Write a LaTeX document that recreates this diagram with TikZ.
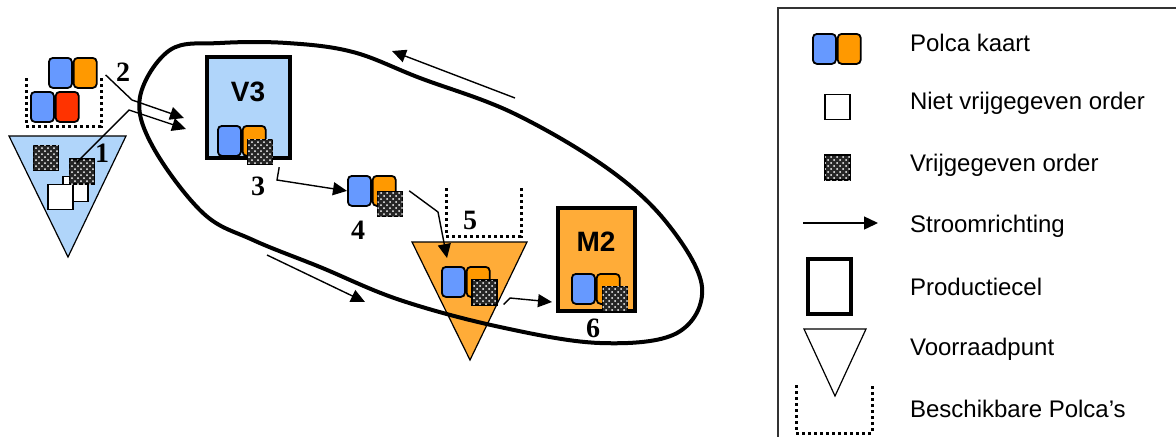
\documentclass[tikz,border=0pt]{standalone}
\usepackage{fontspec}
\setmainfont{Liberation Sans}
\newfontfamily\stapfont{Liberation Serif}
\usetikzlibrary{arrows.meta, positioning, patterns}
\definecolor{polcablue}{RGB}{102,153,255}
\definecolor{polcaorange}{RGB}{255,153,0}
\definecolor{polcared}{RGB}{255,51,0}
\definecolor{cellblue}{RGB}{176,213,250}
\definecolor{cellorange}{RGB}{255,172,56}

% polca card pair: name, north west corner, colour of the right half
\newcommand{\kaartpaar}[3]{%
  \node[kaart, fill=polcablue, anchor=north west] (#1l) at #2 {};
  \node[kaart, fill=#3, anchor=west] (#1r) at (#1l.east) {};}

\begin{document}
\begin{tikzpicture}[x=0.5pt, y=-0.5pt,
  kaart/.style={draw, line width=0.9pt, rounded corners=2pt, minimum width=11.5pt,
    minimum height=15pt, inner sep=0pt},
  order/.style={draw, line width=0.7pt, fill=black!85,
    postaction={pattern=crosshatch dots, pattern color=white!80}, minimum size=12.5pt, inner sep=0pt},
  leeg/.style={draw, line width=0.6pt, fill=white, minimum size=12.5pt, inner sep=0pt},
  cel/.style={draw, line width=2pt, inner sep=0pt},
  voorraad/.style={draw, line width=0.6pt},
  vrij/.style={line width=1.5pt, dash pattern=on 1.5pt off 1.5pt},
  flow/.style={-{Triangle[length=7pt, width=6.5pt]}, line width=0.7pt},
  stap/.style={font=\stapfont\bfseries\fontsize{14}{14}\selectfont},
  naam/.style={font=\bfseries\fontsize{14}{14}\selectfont},
  legtxt/.style={anchor=west, font=\fontsize{12}{14}\selectfont}
]
\useasboundingbox (0,0) rectangle (1176,436);

% stock points and available polcas
\draw[voorraad, fill=cellblue] (9,136) -- (126,136) -- (68,257) -- cycle;
\draw[voorraad, fill=cellorange] (412,242) -- (527,242) -- (470,360) -- cycle;
\draw[vrij] (26,78) -- (26,126) -- (101,126) -- (101,78);
\draw[vrij] (446,188) -- (446,236) -- (521,236) -- (521,188);

% production cells
\node[cel, fill=cellblue, minimum width=41.5pt, minimum height=50.5pt] (V3) at (248.5,107.5) {};
\node[cel, fill=cellorange, minimum width=38.5pt, minimum height=51.5pt] (M2) at (596.5,259.5) {};
\node[naam] (v3naam) at (248,92) {V3};
\node[naam] (m2naam) at (596,242) {M2};

% polca loop
\draw[line width=2pt] plot[smooth cycle, tension=0.6] coordinates {
  (140,97) (170,50) (220,43) (287,43) (353,52) (420,78) (513,113) (607,168)
  (667,223) (702,287) (677,333) (600,343) (500,327) (400,300) (320,267)
  (253,240) (203,213) (153,147)};
\coordinate (terugA) at (515,98);
\coordinate (terugB) at (392,51);
\coordinate (heenA) at (267,255);
\coordinate (heenB) at (365,302);
\draw[flow] (terugA) -- (terugB);
\draw[flow] (heenA) -- (heenB);

% cards and orders
\kaartpaar{k1}{(48,57)}{polcaorange}
\kaartpaar{k2}{(30,91)}{polcared}
\node[leeg] (w1b) at (75.5,189) {};
\node[leeg] (w1a) at (60.5,197) {};
\node[order] (o1a) at (46,158) {};
\node[order] (o1b) at (82,171.5) {};
\kaartpaar{k3}{(217,125)}{polcaorange}
\node[order] (o3) at (260,152) {};
\kaartpaar{k4}{(347,175)}{polcaorange}
\node[order] (o4) at (390,204) {};
\kaartpaar{k5}{(441,266)}{polcaorange}
\node[order] (o5) at (484.5,292.5) {};
\kaartpaar{k6}{(571,273)}{polcaorange}
\node[order] (o6) at (615,299) {};

% flow lines
\coordinate (b2) at (132,100);
\coordinate (in2) at (184,118);
\coordinate (b1) at (129,110);
\coordinate (in1) at (186,129);
\draw[flow] ([xshift=4pt,yshift=-1pt]k1r.east) -- (b2) -- (in2);
\draw[flow] ([xshift=4pt,yshift=-2pt]o1b.north west) -- (b1) -- (in1);
\coordinate (b3) at (277,180);
\draw[flow] ([xshift=3pt,yshift=-1pt]o3.south east) -- (b3) -- (k4l.west);
\coordinate (b4) at (438,212);
\coordinate (in5) at (447,258);
\draw[flow] ([xshift=3pt]o4.north east) -- (b4) -- (in5);
\coordinate (b5) at (510,298);
\coordinate (in6) at (552,302);
\draw[flow] ([xshift=3pt,yshift=-6pt]o5.east) -- (b5) -- (in6);

% step numbers
\node[stap] (s1) at (102,153) {1};
\node[stap] (s2) at (123,72) {2};
\node[stap] (s3) at (258,186) {3};
\node[stap] (s4) at (358,230) {4};
\node[stap] (s5) at (470,220) {5};
\node[stap] (s6) at (593,328) {6};

% legend
\draw[line width=0.6pt, black!80] (1190,8) -- (778,8) -- (778,450);
\kaartpaar{kl}{(812,33)}{polcaorange}
\node[leeg] (wl) at (837.5,107) {};
\node[order] (ol) at (837.5,167.5) {};
\coordinate (pijlA) at (803,223);
\coordinate (pijlB) at (878,223);
\draw[flow] (pijlA) -- (pijlB);
\node[cel, minimum width=21.5pt, minimum height=27.5pt] (cl) at (829.5,286.5) {};
\draw[voorraad] (804,329) -- (866,329) -- (835,396) -- cycle;
\draw[vrij] (796,385) -- (796,433) -- (872,433) -- (872,385);

\node[legtxt] (t1) at (903,43) {Polca kaart};
\node[legtxt] (t2) at (903,103) {Niet vrijgegeven order};
\node[legtxt] (t3) at (903,165) {Vrijgegeven order};
\node[legtxt] (t4) at (903,226) {Stroomrichting};
\node[legtxt] (t5) at (903,287) {Productiecel};
\node[legtxt] (t6) at (903,349) {Voorraadpunt};
\node[legtxt] (t7) at (903,409) {Beschikbare Polca’s};
\end{tikzpicture}
\end{document}
